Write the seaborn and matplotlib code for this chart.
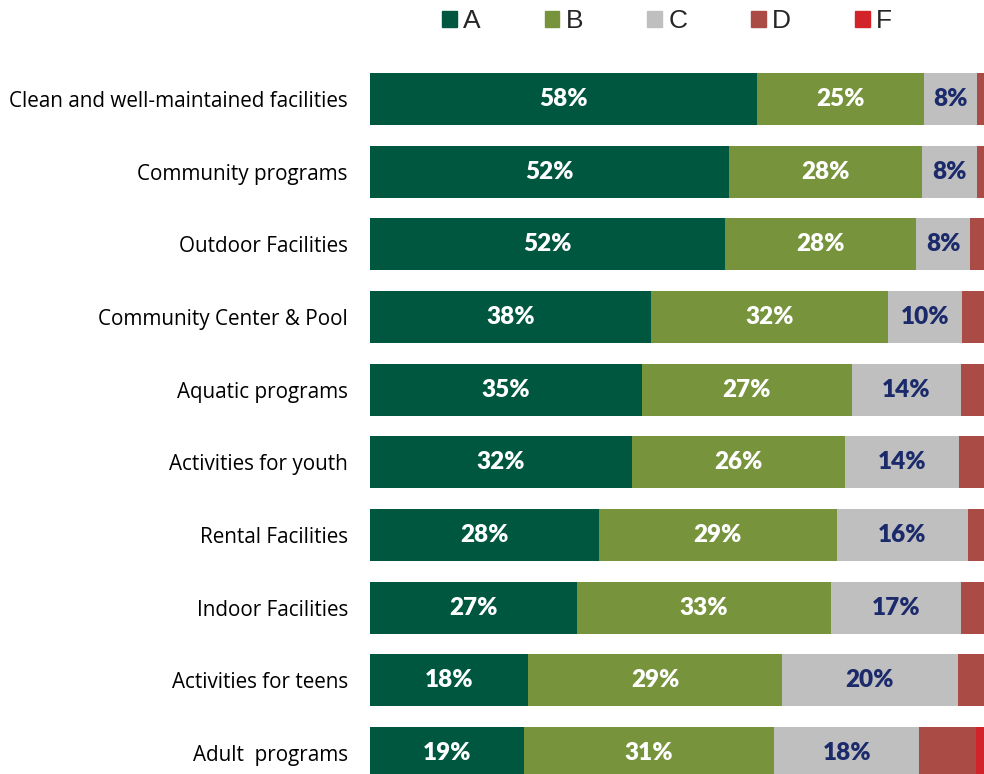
import numpy as np
import pandas as pd
import matplotlib
matplotlib.use("Agg")
import matplotlib.pyplot as plt
from matplotlib.patches import Patch
import seaborn as sns

categories = ["Clean and well-maintained facilities", "Community programs",
              "Outdoor Facilities", "Community Center & Pool", "Aquatic programs",
              "Activities for youth", "Rental Facilities", "Indoor Facilities",
              "Activities for teens", "Adult  programs"]
grade_a = [58, 52, 52, 38, 35, 32, 28, 27, 18, 19]
grade_b = [25, 28, 28, 32, 27, 26, 29, 33, 29, 31]
grade_c = [8, 8, 8, 10, 14, 14, 16, 17, 20, 18]
grade_d = [1, 1, 2, 3, 3, 3, 2, 3, 3, 7]
grade_f = [0, 0, 0, 0, 0, 0, 0, 0, 0, 1]
grades = ["A", "B", "C", "D", "F"]
colors = ["#00573F", "#77933C", "#BFBFBF", "#AB4B46", "#D2232A"]

df = pd.DataFrame({"Category": categories, "A": grade_a, "B": grade_b,
                   "C": grade_c, "D": grade_d, "F": grade_f})
# bars are scaled to the share of people who gave a grade
total = df[grades].sum(axis=1)
share = df[grades].div(total, axis=0) * 100
cum = share.cumsum(axis=1)

sns.set_style("white")
fig = plt.figure(figsize=(9.84, 7.74), dpi=100)
ax = fig.add_axes([370 / 984, 0, 614 / 984, 714 / 774])

# draw cumulative bars from the widest down so each segment shows
for g, c in reversed(list(zip(grades, colors))):
    sns.barplot(x=cum[g], y=df["Category"], orient="h", color=c,
                width=0.716, saturation=1, ax=ax, linewidth=0)

ax.set_xlim(0, 100)
ax.set_ylim(9.289, -0.537)
ax.set_xlabel("")
ax.set_ylabel("")
ax.set_xticks([])
ax.tick_params(axis="y", length=0, pad=16)
for lab in ax.get_yticklabels():
    lab.set_fontfamily("Open Sans")
    lab.set_fontsize(14.9)
    lab.set_color("black")
sns.despine(ax=ax, left=True, bottom=True)

text_colors = {"A": "white", "B": "white", "C": "#1B2A6B"}
for i in range(len(df)):
    for g in ["A", "B", "C"]:
        mid = cum[g][i] - share[g][i] / 2
        ax.text(mid, i, f"{df[g][i]}%", ha="center", va="center",
                color=text_colors[g], fontsize=17.5, fontweight="heavy",
                family="Lato")

handles = [Patch(color=c, label=g) for g, c in zip(grades, colors)]
leg = fig.legend(handles=handles, loc="center", bbox_to_anchor=(0.678, 0.973),
                 ncol=5, frameon=False, handlelength=0.55, handleheight=0.55,
                 handletextpad=0.25, columnspacing=2.42,
                 prop={"family": "Liberation Sans", "size": 19})

fig.savefig("out.png", dpi=100)
